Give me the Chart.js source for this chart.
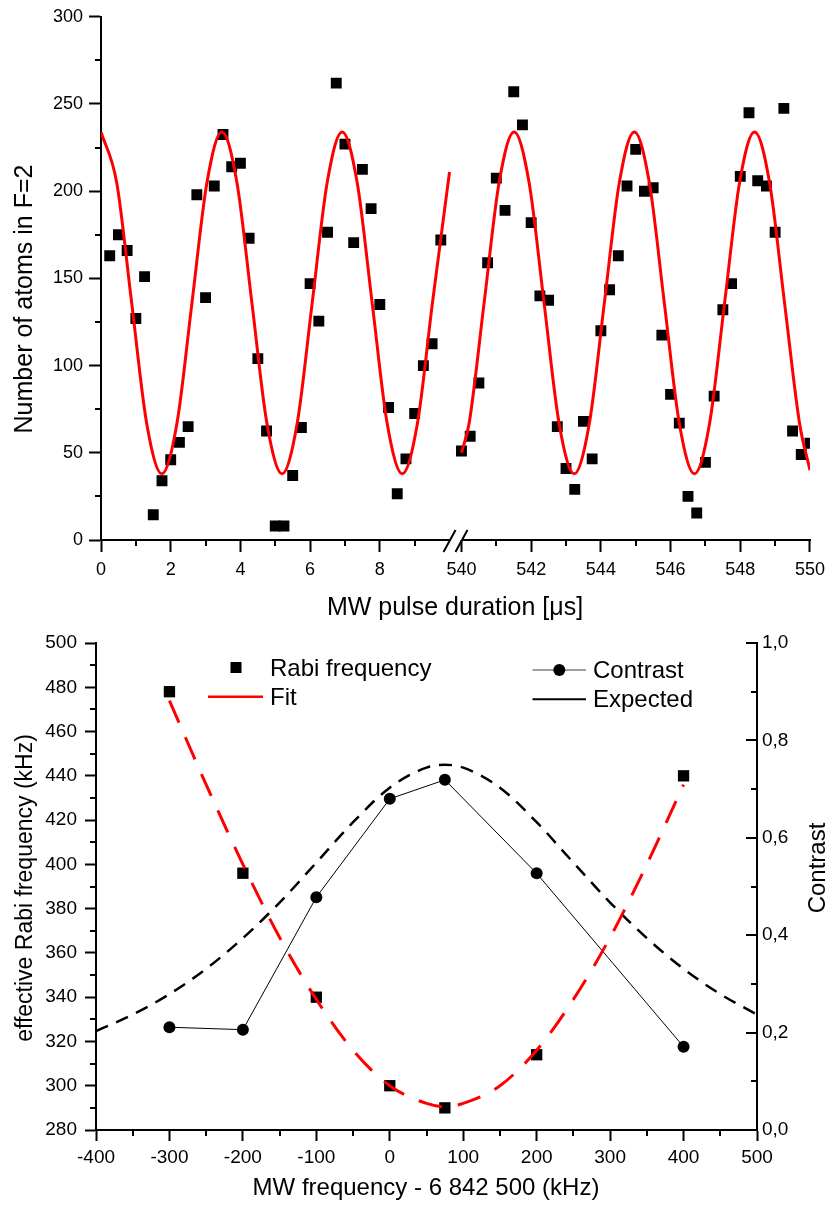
<!DOCTYPE html>
<html>
<head>
<meta charset="utf-8">
<title>Rabi oscillations</title>
<script src="https://cdn.jsdelivr.net/npm/chart.js@4.4.1/dist/chart.umd.min.js"></script>
<style>
  body { margin: 0; background: #fff; }
  canvas { position: absolute; left: 0; }
  #chartTop { top: 0; }
  #chartBottom { top: 620px; }
</style>
</head>
<body>
<canvas id="chartTop" width="832" height="620"></canvas>
<canvas id="chartBottom" width="832" height="591"></canvas>
<script>
/*** top panel: atoms in F=2 vs pulse duration (two windows) ***/

const timesEarly = [0.25, 0.5, 0.75, 1, 1.25, 1.5, 1.75, 2, 2.25, 2.5, 2.75, 3, 3.25, 3.5, 3.75, 4,
  4.25, 4.5, 4.75, 5, 5.25, 5.5, 5.75, 6, 6.25, 6.5, 6.75, 7, 7.25, 7.5, 7.75, 8, 8.25, 8.5, 8.75,
  9, 9.25, 9.5, 9.75];
const atomsEarly = [163, 175, 166, 127, 151, 14.5, 34, 46, 56, 65, 198, 139, 203, 232.5, 214, 216,
  173, 104, 62.5, 8, 8, 37, 64.5, 147, 125.5, 176.5, 262, 227, 170.5, 212.5, 190, 135, 76, 26.5, 46.5,
  72.5, 100, 112.5, 172];

const timesLate = [540, 540.25, 540.5, 540.75, 541, 541.25, 541.5, 541.75, 542, 542.25, 542.5, 542.75,
  543, 543.25, 543.5, 543.75, 544, 544.25, 544.5, 544.75, 545, 545.25, 545.5, 545.75, 546, 546.25,
  546.5, 546.75, 547, 547.25, 547.5, 547.75, 548, 548.25, 548.5, 548.75, 549, 549.25, 549.5, 549.75, 550];
const atomsLate = [51, 59.5, 90, 159, 207.5, 189, 257, 238, 182, 140, 137.5, 65, 41, 29, 68, 46.5,
  120, 143.5, 163, 203, 224, 200, 202, 117.5, 83.5, 67, 25, 15.5, 44.5, 82.5, 132, 147, 208.5, 245,
  206, 203, 176.5, 247.5, 62.5, 49, 55.5];

// red fit curve
const fitTimesEarly = [0, 0.45, 0.88, 1.31, 1.745, 2.18, 2.61, 3.04, 3.47, 3.9, 4.33, 4.76, 5.195,
  5.63, 6.06, 6.49, 6.92, 7.35, 7.78, 8.21, 8.645, 9.08, 9.51, 10];
const fitAtomsEarly = [234, 205, 136, 67, 38, 67, 136, 205, 234, 205, 136, 67, 38,
  67, 136, 205, 234, 205, 136, 67, 38, 67, 136, 211];
const fitTimesLate = [540, 540.22, 540.65, 541.08, 541.51, 541.94, 542.37, 542.8, 543.235, 543.67,
  544.1, 544.53, 544.96, 545.39, 545.82, 546.25, 546.685, 547.12, 547.55, 547.98, 548.41, 548.84,
  549.27, 549.7, 550];
const fitAtomsLate = [50, 67, 136, 205, 234, 205, 136, 67, 38, 67,
  136, 205, 234, 205, 136, 67, 38, 67, 136, 205, 234, 205,
  136, 67, 40];

const earlyTicks = [0, 2, 4, 6, 8];
const lateTicks = [540, 542, 544, 546, 548, 550];
const earlyMinor = [1, 3, 5, 7, 9];
const lateMinor = [541, 543, 545, 547, 549];
const atomMinor = [25, 75, 125, 175, 225, 275];

/*** bottom panel: Rabi frequency and contrast vs detuning ***/

const detuning = [-300, -200, -100, 0, 75, 200, 400];
const rabiFreq = [478, 396, 340, 300, 290, 314, 440];
const contrast = [0.211, 0.206, 0.478, 0.68, 0.719, 0.527, 0.171];

const fitDetuning = [-300, -250, -200, -150, -100, -50, 0, 50, 75, 100, 150, 200, 250, 300, 350, 400];
const fitRabi = [474, 436, 400, 367, 339, 316, 300, 292, 290.5, 292, 300, 316, 339, 367, 400, 436];

const expectedDetuning = [-400, -350, -300, -250, -200, -150, -100, -50, 0, 50, 75, 100, 150, 200,
  250, 300, 350, 400, 450, 500];
const expectedContrast = [0.203, 0.237, 0.279, 0.331, 0.394, 0.467, 0.549, 0.632, 0.703, 0.744, 0.75,
  0.744, 0.703, 0.632, 0.549, 0.467, 0.394, 0.331, 0.279, 0.237];

const detMinor = [-350, -250, -150, -50, 50, 150, 250, 350, 450];
const rabiMinor = [290, 310, 330, 350, 370, 390, 410, 430, 450, 470, 490];
const contrastMajor = [0, 0.2, 0.4, 0.6, 0.8, 1];
const contrastMinor = [0.1, 0.3, 0.5, 0.7, 0.9];

//VARS AND CONSTS

const FONT = "'Liberation Sans', Arial, sans-serif";
Chart.defaults.font.family = FONT;
Chart.defaults.color = "#000";
Chart.defaults.animation = false;
Chart.defaults.plugins.legend.display = false;
Chart.defaults.plugins.tooltip.enabled = false;

// the axis break takes 12px, i.e. 12/35 of a microsecond on the plotted scale
const BREAK = 12 / 35;
const toAxis = (t) => (t <= 10 ? t : t - 540 + 10 + BREAK);
const fromAxis = (v) => (v <= 10 ? v : Math.round(v - 10 - BREAK + 540));

function pts(xs, ys, fx) {
  return xs.map((x, i) => ({ x: fx ? fx(x) : x, y: ys[i] }));
}

//Small tick marks between the labelled ones
const minorTicks = {
  id: "minorTicks",
  afterDraw(chart, args, opts) {
    const ctx = chart.ctx;
    ctx.save();
    ctx.strokeStyle = "#000";
    ctx.lineWidth = 2;
    ctx.beginPath();
    for (const m of opts.marks) {
      const s = chart.scales[m.scale];
      for (const v of m.values) {
        const p = Math.round(s.getPixelForValue(v));
        if (m.side === "bottom") {
          ctx.moveTo(p, s.top);
          ctx.lineTo(p, s.top + m.len);
        } else if (m.side === "left") {
          ctx.moveTo(s.right, p);
          ctx.lineTo(s.right - m.len, p);
        } else {
          // right axis, ticks point into the plot
          ctx.moveTo(s.left, p);
          ctx.lineTo(s.left - m.len, p);
        }
      }
    }
    ctx.stroke();
    ctx.restore();
  },
};

//Broken x axis and titles of the top panel
const topDecor = {
  id: "topDecor",
  afterDraw(chart) {
    const { ctx, chartArea: a } = chart;
    const x = chart.scales.x;
    const xa = x.getPixelForValue(10);
    const xb = x.getPixelForValue(10 + BREAK);
    ctx.save();
    ctx.strokeStyle = "#000";
    ctx.lineWidth = 2;
    ctx.beginPath();
    ctx.moveTo(a.left - 1, a.bottom);
    ctx.lineTo(xa, a.bottom);
    ctx.moveTo(xb, a.bottom);
    ctx.lineTo(a.right + 1, a.bottom);
    for (const px of [xa, xb]) {
      ctx.moveTo(px - 6, a.bottom + 12);
      ctx.lineTo(px + 6, a.bottom - 10);
    }
    ctx.stroke();

    ctx.fillStyle = "#000";
    ctx.font = "25px " + FONT;
    ctx.textAlign = "center";
    ctx.textBaseline = "alphabetic";
    ctx.fillText("MW pulse duration [μs]", 455, 615);
    ctx.translate(31.5, 299);
    ctx.rotate(-Math.PI / 2);
    ctx.fillText("Number of atoms in F=2", 0, 0);
    ctx.restore();
  },
};

//Titles and legend of the bottom panel
const bottomDecor = {
  id: "bottomDecor",
  afterDraw(chart) {
    const ctx = chart.ctx;
    ctx.save();
    ctx.fillStyle = "#000";
    ctx.textBaseline = "alphabetic";
    ctx.font = "24px " + FONT;
    ctx.textAlign = "center";
    ctx.fillText("MW frequency - 6 842 500 (kHz)", 426, 575);

    // legend
    ctx.textAlign = "left";
    ctx.fillRect(230.5, 42, 11, 11);
    ctx.fillText("Rabi frequency", 270, 55.5);
    ctx.fillText("Fit", 270, 85);
    ctx.fillText("Contrast", 593, 58);
    ctx.fillText("Expected", 593, 87);

    ctx.lineWidth = 2.5;
    ctx.strokeStyle = "#ff0000";
    ctx.beginPath();
    ctx.moveTo(208, 76.7);
    ctx.lineTo(263, 76.7);
    ctx.stroke();

    ctx.lineWidth = 1.5;
    ctx.strokeStyle = "#808080";
    ctx.beginPath();
    ctx.moveTo(532.5, 50);
    ctx.lineTo(586, 50);
    ctx.stroke();
    ctx.beginPath();
    ctx.arc(559.3, 50, 6, 0, Math.PI * 2);
    ctx.fill();

    ctx.lineWidth = 2;
    ctx.strokeStyle = "#000";
    ctx.beginPath();
    ctx.moveTo(532.5, 79.3);
    ctx.lineTo(586, 79.3);
    ctx.stroke();

    // rotated axis titles
    ctx.font = "23px " + FONT;
    ctx.textAlign = "center";
    ctx.save();
    ctx.translate(31.7, 268);
    ctx.rotate(-Math.PI / 2);
    ctx.fillText("effective Rabi frequency (kHz)", 0, 0);
    ctx.restore();
    ctx.font = "24px " + FONT;
    ctx.translate(825, 248);
    ctx.rotate(-Math.PI / 2);
    ctx.fillText("Contrast", 0, 0);
    ctx.restore();
  },
};

const tickGrid = { drawOnChartArea: false, tickWidth: 2, tickColor: "#000" };
const axisBorder = { color: "#000", width: 2 };

new Chart(document.getElementById("chartTop"), {
  type: "scatter",
  data: {
    datasets: [
      {
        data: pts(fitTimesEarly, fitAtomsEarly),
        showLine: true,
        borderColor: "#ff0000",
        borderWidth: 3,
        pointRadius: 0,
        cubicInterpolationMode: "monotone",
      },
      {
        data: pts(fitTimesLate, fitAtomsLate, toAxis),
        showLine: true,
        borderColor: "#ff0000",
        borderWidth: 3,
        pointRadius: 0,
        cubicInterpolationMode: "monotone",
      },
      {
        data: pts(timesEarly, atomsEarly).concat(pts(timesLate, atomsLate, toAxis)),
        pointStyle: "rect",
        pointRadius: 7.7,
        backgroundColor: "#000",
        borderWidth: 0,
      },
    ],
  },
  options: {
    responsive: false,
    layout: { padding: { left: 0, top: 15, right: 19, bottom: 0 } },
    scales: {
      x: {
        type: "linear",
        min: 0,
        max: 20 + BREAK,
        afterBuildTicks: (s) => {
          s.ticks = earlyTicks.concat(lateTicks).map((t) => ({ value: toAxis(t) }));
        },
        afterFit: (s) => {
          s.height = 80;
        },
        ticks: {
          font: { size: 18 },
          padding: 7,
          maxRotation: 0,
          autoSkip: false,
          callback: (v) => String(fromAxis(v)),
        },
        grid: { ...tickGrid, tickLength: 12 },
        border: { display: false },
      },
      y: {
        min: 0,
        max: 300,
        afterFit: (s) => {
          s.width = 101;
        },
        ticks: { stepSize: 50, font: { size: 18 }, padding: 6 },
        grid: { ...tickGrid, tickLength: 12 },
        border: axisBorder,
      },
    },
    plugins: {
      minorTicks: {
        marks: [
          { scale: "x", side: "bottom", len: 6, values: earlyMinor.concat(lateMinor).map(toAxis) },
          { scale: "y", side: "left", len: 6, values: atomMinor },
        ],
      },
    },
  },
  plugins: [minorTicks, topDecor],
});

new Chart(document.getElementById("chartBottom"), {
  type: "scatter",
  data: {
    datasets: [
      {
        label: "Fit",
        data: pts(fitDetuning, fitRabi),
        yAxisID: "y",
        showLine: true,
        borderColor: "#ff0000",
        borderWidth: 3,
        borderDash: [24, 16],
        pointRadius: 0,
        cubicInterpolationMode: "monotone",
      },
      {
        label: "Rabi frequency",
        data: pts(detuning, rabiFreq),
        yAxisID: "y",
        pointStyle: "rect",
        pointRadius: 8,
        backgroundColor: "#000",
        borderWidth: 0,
      },
      {
        label: "Expected",
        data: pts(expectedDetuning, expectedContrast),
        yAxisID: "y1",
        showLine: true,
        borderColor: "#000",
        borderWidth: 2.5,
        borderDash: [13, 9],
        pointRadius: 0,
        cubicInterpolationMode: "monotone",
      },
      {
        label: "Contrast",
        data: pts(detuning, contrast),
        yAxisID: "y1",
        showLine: true,
        borderColor: "#000",
        borderWidth: 1,
        pointStyle: "circle",
        pointRadius: 6,
        pointBackgroundColor: "#000",
        pointBorderWidth: 0,
      },
    ],
  },
  options: {
    responsive: false,
    layout: { padding: { left: 0, top: 23, right: 0, bottom: 0 } },
    scales: {
      x: {
        type: "linear",
        min: -400,
        max: 500,
        afterFit: (s) => {
          s.height = 81;
        },
        ticks: { stepSize: 100, font: { size: 19 }, padding: 5, maxRotation: 0, autoSkip: false },
        grid: { ...tickGrid, tickLength: 11 },
        border: axisBorder,
      },
      y: {
        position: "left",
        min: 280,
        max: 500,
        afterFit: (s) => {
          s.width = 96;
        },
        ticks: { stepSize: 20, font: { size: 19 }, padding: 8 },
        grid: { ...tickGrid, tickLength: 11 },
        border: axisBorder,
      },
      y1: {
        position: "right",
        min: 0,
        max: 1,
        afterFit: (s) => {
          s.width = 75;
        },
        ticks: {
          stepSize: 0.2,
          font: { size: 19 },
          padding: 5,
          callback: (v) => v.toFixed(1).replace(".", ","),
        },
        grid: { drawOnChartArea: false, drawTicks: false },
        border: axisBorder,
      },
    },
    plugins: {
      minorTicks: {
        marks: [
          { scale: "x", side: "bottom", len: 6, values: detMinor },
          { scale: "y", side: "left", len: 6, values: rabiMinor },
          { scale: "y1", side: "rightIn", len: 11, values: contrastMajor },
          { scale: "y1", side: "rightIn", len: 6, values: contrastMinor },
        ],
      },
    },
  },
  plugins: [minorTicks, bottomDecor],
});
</script>
</body>
</html>
